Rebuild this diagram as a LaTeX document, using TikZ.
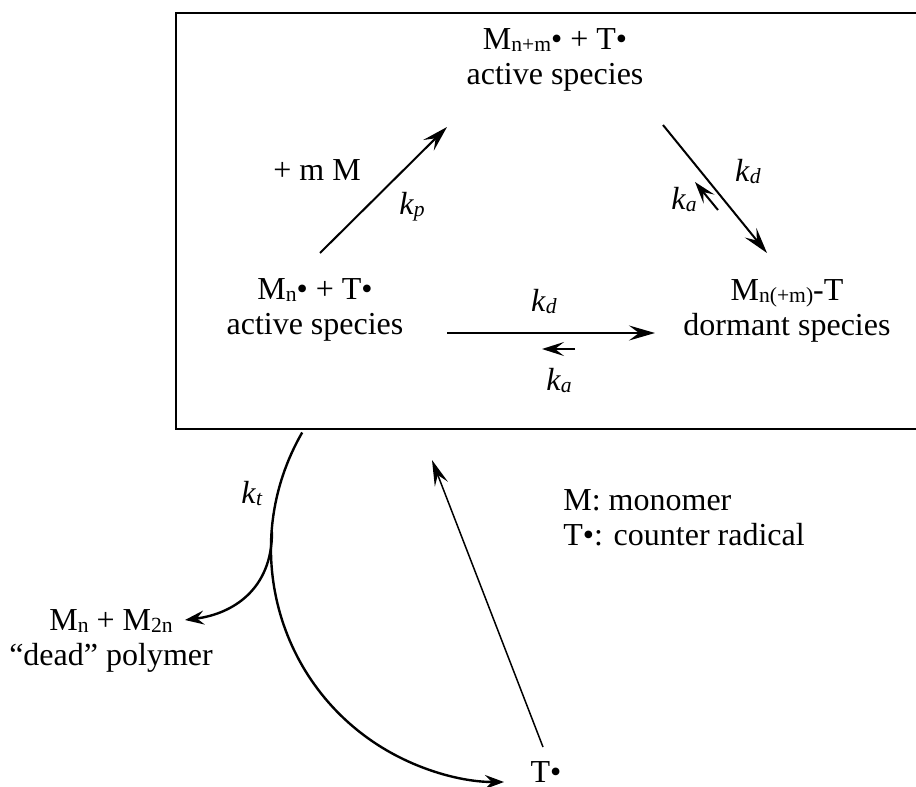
\documentclass[tikz,border=0pt]{standalone}
\usepackage{fontspec}
\setmainfont{Liberation Serif}
\usetikzlibrary{arrows.meta}
\newcommand{\lsub}[1]{\raisebox{-1pt}{\fontsize{10.8}{10.8}\selectfont #1}}
\newcommand{\kk}[1]{\textit{k}\lsub{\textit{#1}}}
\tikzset{
  txt/.style={inner sep=0pt, font=\fontsize{16}{17.5}\selectfont, align=center},
  rxn/.style={line width=1pt, -{Stealth[length=13pt,width=7.5pt,inset=5pt]}},
  back/.style={line width=1pt, -{Stealth[length=11pt,width=7pt,inset=4.5pt]}},
  term/.style={line width=1.2pt, -{Stealth[length=9.5pt,width=7pt,inset=3.5pt]}},
  ret/.style={line width=0.75pt, -{Stealth[length=13pt,width=7pt,inset=5pt]}},
  frame/.style={line width=1pt}
}
\begin{document}
\begin{tikzpicture}[x=0.5pt,y=0.5pt]
\useasboundingbox (0,0) rectangle (916,-787);
\clip (0,0) rectangle (916,-787);
\draw[frame] (176,-13) rectangle (930,-429);
% species
\node[txt] (top) at (555,-60) {M\lsub{n+m}• + T•\\active species};
\node[txt] (left) at (315,-310) {M\lsub{n}• + T•\\active species};
\node[txt] (right) at (787,-311) {M\lsub{n(+m)}-T\\dormant species};
\node[txt] (plusm) at (317,-170) {+ m M};
% rate labels
\node[txt] (kp) at (412,-207) {\kk{p}};
\node[txt] (kd1) at (748,-172) {\kk{d}};
\node[txt] (ka1) at (684,-200) {\kk{a}};
\node[txt] (kd2) at (544,-302) {\kk{d}};
\node[txt] (ka2) at (559,-381) {\kk{a}};
\node[txt] (kt) at (252,-493) {\kk{t}};
% outside
\node[txt] (dead) at (111,-641) {M\lsub{n} + M\lsub{2n}\\“dead” polymer};
\node[txt] (tb) at (546,-772) {T•};
\node[txt, align=left, anchor=west] (legend) at (563,-518) {M: monomer\\T•: counter radical};
% connector ends
\coordinate (kpS) at (320,-253);
\coordinate (kpE) at (447,-127);
\coordinate (dS) at (663,-125);
\coordinate (dE) at (767,-253);
\coordinate (aS) at (718,-210);
\coordinate (aE) at (695,-182);
\coordinate (hS) at (447,-333);
\coordinate (hE) at (655,-333);
\coordinate (haS) at (575,-349);
\coordinate (haE) at (542,-349);
\coordinate (ktS) at (302.2,-432.5);
\coordinate (brS) at (272,-532);
\coordinate (brE) at (185,-620);
\coordinate (tS) at (543,-747);
\coordinate (tE) at (432,-460);
% arrows
\draw[rxn] (kpS) -- (kpE);
\draw[rxn] (dS) -- (dE);
\draw[back] (aS) -- (aE);
\draw[rxn] (hS) -- (hE);
\draw[back] (haS) -- (haE);
\draw[term] (ktS) arc[start angle=150,end angle=270,radius=233];
\draw[term] (brS) .. controls (272,-590) and (232,-614) .. (brE);
\draw[ret] (tS) -- (tE);
\end{tikzpicture}
\end{document}
